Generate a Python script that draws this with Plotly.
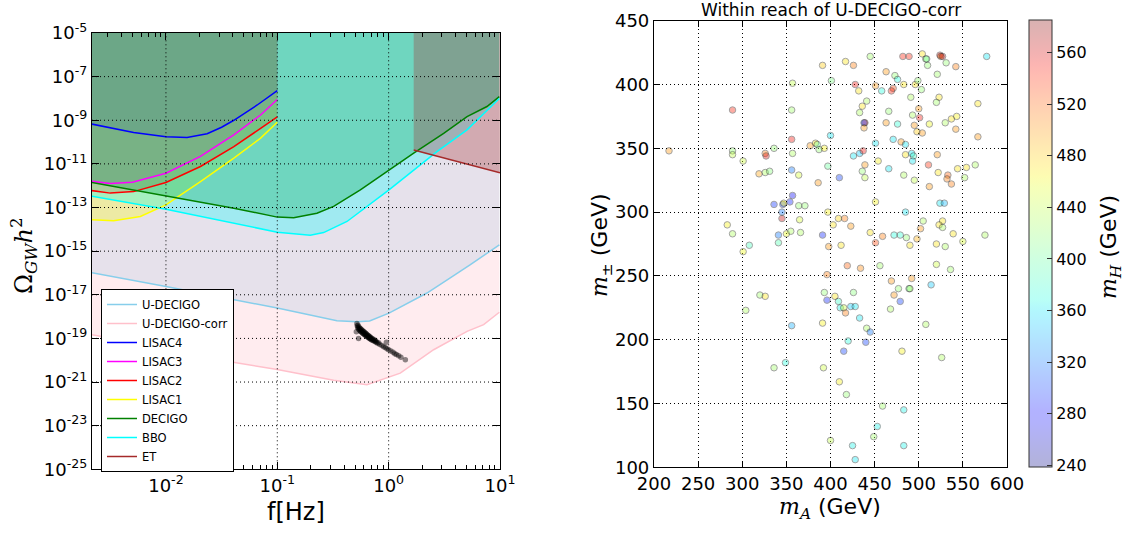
import numpy as np
import plotly.graph_objects as go

# ---------------- left panel: sensitivity curves (log10 f [Hz], log10 Omega h^2) -------------
udecigo_logf = [-2.70, -2.0, -1.0, -0.464, -0.284, -0.171, 0.003, 0.344, 0.584, 0.734, 0.994]
udecigo_logo = [-15.96, -16.62, -17.61, -18.19, -18.24, -18.20, -17.84, -16.92, -16.12, -15.62, -14.71]

corr_logf = [-2.70, -2.0, -1.452, -1.0, -0.494, -0.195, 0.104, 0.404, 0.704, 0.853, 0.994]
corr_logo = [-18.80, -19.44, -20.05, -20.43, -20.92, -21.12, -20.59, -19.52, -18.68, -18.37, -17.80]

lisac4_logf = [-2.70, -2.45, -2.29, -2.0, -1.81, -1.63, -1.50, -1.39, -1.18, -1.0]
lisac4_logo = [-9.14, -9.40, -9.56, -9.76, -9.79, -9.62, -9.32, -9.00, -8.30, -7.64]

lisac3_logf = [-2.70, -2.5, -2.3, -2.0, -1.69, -1.39, -1.15, -1.0]
lisac3_logo = [-11.78, -11.90, -11.84, -11.43, -10.66, -9.67, -8.76, -8.05]

lisac2_logf = [-2.70, -2.5, -2.29, -2.0, -1.69, -1.39, -1.15, -1.0]
lisac2_logo = [-12.20, -12.34, -12.27, -11.85, -11.12, -10.21, -9.37, -8.84]

lisac1_logf = [-2.70, -2.47, -2.23, -2.0, -1.69, -1.39, -1.15, -1.0]
lisac1_logo = [-13.55, -13.61, -13.41, -12.88, -11.81, -10.74, -9.82, -9.09]

decigo_logf = [-2.70, -2.0, -1.39, -1.0, -0.853, -0.644, -0.494, -0.254, 0.003, 0.225, 0.494, 0.704, 0.883, 0.994]
decigo_logo = [-11.82, -12.47, -13.03, -13.44, -13.47, -13.26, -12.95, -12.19, -11.27, -10.51, -9.60, -8.83, -8.37, -7.92]

bbo_logf = [-2.70, -2.0, -1.0, -0.793, -0.704, -0.584, -0.374, 0.003, 0.225, 0.434, 0.704, 0.883, 0.994]
bbo_logo = [-12.45, -13.08, -14.13, -14.25, -14.27, -14.15, -13.64, -12.19, -11.27, -10.44, -9.44, -8.53, -8.00]

et_logf = [0.225, 1.0]
et_logo = [-10.36, -11.41]

# benchmark points (black cloud)
blob_logf = [-0.285, -0.282, -0.278, -0.275, -0.272, -0.268, -0.265, -0.262, -0.258, -0.255, -0.252, -0.248,
             -0.245, -0.242, -0.238, -0.235, -0.232, -0.228, -0.225, -0.222, -0.218, -0.215, -0.212, -0.208,
             -0.205, -0.202, -0.198, -0.195, -0.192, -0.188, -0.185, -0.182, -0.178, -0.175, -0.172, -0.168,
             -0.165, -0.162, -0.158, -0.155, -0.150, -0.145, -0.140, -0.135, -0.130, -0.125, -0.120, -0.115,
             -0.110, -0.100, -0.090, -0.080, -0.060, -0.045, -0.030, -0.015, 0.000, 0.020, 0.040, 0.055,
             0.070, 0.090, 0.110, 0.150, -0.270, -0.020, -0.290]
blob_logo = [-18.32, -18.42, -18.50, -18.40, -18.56, -18.47, -18.60, -18.52, -18.64, -18.55, -18.68, -18.58,
             -18.70, -18.62, -18.74, -18.64, -18.76, -18.68, -18.79, -18.70, -18.82, -18.73, -18.84, -18.76,
             -18.87, -18.79, -18.90, -18.82, -18.92, -18.85, -18.95, -18.88, -18.97, -18.90, -19.00, -18.93,
             -19.02, -18.96, -19.05, -18.99, -19.07, -19.02, -19.10, -19.05, -19.12, -19.09, -19.15, -19.12,
             -19.18, -19.22, -19.20, -19.28, -19.32, -19.38, -19.42, -19.47, -19.52, -19.58, -19.64, -19.70,
             -19.74, -19.80, -19.86, -19.98, -19.00, -19.18, -18.70]

# ---------------- right panel: scatter (m_A, m_pm, m_H) in GeV ----------------
m_A = [217, 289, 289, 289, 301, 319, 326, 331, 326, 327, 336, 283, 289, 301, 308, 356, 357, 356, 357, 356,
       364, 377, 383, 385, 387, 393, 386, 391, 401, 400, 397, 410, 364, 346, 336, 347, 354, 357, 345, 345,
       350, 355, 341, 341, 365, 366, 371, 397, 391, 398, 403, 409, 416, 412, 423, 417, 426, 428, 432, 441,
       436, 433, 439, 438, 438, 445, 451, 458, 463, 471, 469, 473, 476, 466, 463, 476, 483, 480, 471, 451,
       454, 439, 426, 433, 437, 436, 439, 466, 451, 445, 459, 451, 472, 479, 486, 490, 483, 485, 495, 485,
       492, 494, 493, 485, 495, 493, 501, 500, 498, 504, 491, 503, 496, 499, 504, 482, 489, 508, 510, 509,
       524, 525, 527, 531, 542, 521, 523, 520, 512, 530, 537, 543, 542, 567, 577, 567, 521, 511, 522, 533,
       532, 537, 544, 552, 554, 564, 512, 524, 529, 527, 523, 527, 502, 505, 498, 539, 520, 530, 550, 575,
       396, 419, 434, 456, 520, 536, 320, 326, 304, 393, 396, 405, 409, 411, 415, 417, 423, 428, 426, 433,
       441, 445, 420, 415, 440, 391, 356, 336, 349, 392, 410, 418, 469, 472, 477, 479, 489, 490, 492, 514,
       468, 508, 481, 526, 459, 483, 453, 449, 400, 425, 483, 428]
m_pm = [348, 380, 348, 345, 340, 330, 331, 332, 346, 344, 350, 290, 283, 269, 274, 380, 401, 357, 346, 333,
        329, 352, 354, 353, 349, 350, 323, 415, 403, 360, 336, 327, 305, 306, 306, 307, 308, 313, 300, 295,
        283, 285, 282, 276, 294, 284, 305, 300, 282, 273, 290, 295, 295, 274, 289, 418, 415, 400, 395, 387,
        383, 378, 370, 370, 366, 422, 399, 395, 410, 397, 395, 407, 404, 379, 370, 369, 400, 355, 357, 354,
        340, 337, 344, 346, 348, 332, 327, 334, 308, 284, 281, 276, 282, 282, 280, 274, 329, 300, 325, 345,
        346, 344, 340, 353, 368, 376, 374, 381, 363, 362, 390, 396, 400, 403, 424, 422, 422, 420, 415, 420,
        423, 422, 422, 417, 414, 408, 390, 386, 369, 370, 373, 375, 365, 385, 422, 359, 345, 337, 331, 329,
        326, 322, 334, 327, 335, 337, 320, 307, 307, 293, 290, 288, 287, 293, 279, 283, 275, 273, 277, 282,
        251, 258, 256, 258, 259, 255, 235, 234, 223, 237, 231, 234, 230, 225, 225, 221, 226, 226, 237, 217,
        209, 206, 199, 191, 198, 213, 211, 178, 182, 178, 167, 157, 246, 235, 240, 230, 240, 240, 248, 243,
        224, 212, 191, 186, 148, 145, 132, 124, 121, 117, 117, 106]
m_H = [500, 545, 420, 440, 445, 495, 430, 415, 510, 555, 420, 465, 430, 460, 385, 425, 440, 550, 430, 320,
       450, 500, 470, 400, 420, 465, 500, 480, 410, 360, 400, 300, 420, 300, 295, 465, 290, 280, 320, 565,
       460, 430, 320, 390, 450, 430, 420, 465, 290, 500, 470, 475, 510, 470, 500, 470, 510, 550, 470, 430,
       470, 430, 560, 300, 500, 425, 500, 370, 500, 530, 545, 420, 370, 420, 500, 375, 470, 500, 360, 360,
       465, 500, 360, 350, 550, 420, 440, 360, 465, 470, 510, 530, 370, 375, 420, 470, 430, 360, 440, 470,
       360, 380, 360, 360, 500, 430, 550, 500, 480, 500, 430, 420, 470, 420, 470, 545, 545, 420, 420, 405,
       560, 510, 570, 420, 510, 425, 470, 425, 460, 430, 470, 465, 500, 470, 360, 500, 500, 540, 470, 520,
       510, 510, 470, 430, 470, 430, 500, 360, 345, 470, 470, 430, 500, 430, 490, 470, 470, 430, 450, 430,
       510, 520, 505, 425, 445, 425, 425, 470, 430, 420, 290, 470, 380, 365, 445, 510, 350, 360, 415, 360,
       430, 320, 370, 300, 300, 465, 340, 425, 370, 445, 465, 420, 500, 500, 420, 300, 400, 430, 500, 350,
       430, 430, 465, 430, 425, 365, 365, 425, 440, 365, 365, 360]

# axis tick labels
x1_ticks = [1e-2, 1e-1, 1e0, 1e1]
x1_ticktext = ["10<sup>-2</sup>", "10<sup>-1</sup>", "10<sup>0</sup>", "10<sup>1</sup>"]
y1_exps = [-5, -7, -9, -11, -13, -15, -17, -19, -21, -23, -25]
cbar_ticks = [240, 280, 320, 360, 400, 440, 480, 520, 560]

# ---------------- styling helpers ----------------
W, H = 1129, 534
TOP = 1e-5
FONT = "DejaVu Sans"
SERIF = "'DejaVu Serif'"
DOT = "1px,3px"


def jet(t):
    r = np.interp(t, [0, 0.35, 0.66, 0.89, 1], [0, 0, 1, 1, 0.5])
    g = np.interp(t, [0, 0.125, 0.375, 0.64, 0.91, 1], [0, 0, 1, 1, 0, 0])
    b = np.interp(t, [0, 0.11, 0.34, 0.65, 1], [0.5, 1, 1, 0, 0])
    return r * 255, g * 255, b * 255


stops = np.linspace(0, 1, 41)
jet_scale = []
pale_scale = []
for s in stops:
    r, g, b = jet(s)
    jet_scale.append([float(s), f"rgb({r:.0f},{g:.0f},{b:.0f})"])
    a = 0.3
    pale_scale.append([float(s), f"rgb({255*(1-a)+r*a:.0f},{255*(1-a)+g*a:.0f},{255*(1-a)+b*a:.0f})"])

CMIN, CMAX = 238.5, 585.0

fig = go.Figure()

series = [
    ("U-DECIGO", udecigo_logf, udecigo_logo, (135, 206, 235)),
    ("U-DECIGO-corr", corr_logf, corr_logo, (255, 192, 203)),
    ("LISAC4", lisac4_logf, lisac4_logo, (0, 0, 255)),
    ("LISAC3", lisac3_logf, lisac3_logo, (255, 0, 255)),
    ("LISAC2", lisac2_logf, lisac2_logo, (255, 0, 0)),
    ("LISAC1", lisac1_logf, lisac1_logo, (255, 255, 0)),
    ("DECIGO", decigo_logf, decigo_logo, (0, 128, 0)),
    ("BBO", bbo_logf, bbo_logo, (0, 255, 255)),
    ("ET", et_logf, et_logo, (165, 42, 42)),
]

# fills (region above each curve)
for name, lf, lo, c in series:
    f = [10 ** v for v in lf]
    o = [10 ** v for v in lo]
    fig.add_trace(go.Scatter(
        x=f + [f[-1], f[0]], y=o + [TOP, TOP], fill="toself",
        fillcolor=f"rgba({c[0]},{c[1]},{c[2]},0.3)", mode="lines", line=dict(width=0),
        showlegend=False, hoverinfo="skip", xaxis="x", yaxis="y"))

# curves
for name, lf, lo, c in series:
    fig.add_trace(go.Scatter(
        x=[10 ** v for v in lf], y=[10 ** v for v in lo], mode="lines", name=name,
        line=dict(color=f"rgb({c[0]},{c[1]},{c[2]})", width=1.5), xaxis="x", yaxis="y"))

# benchmark cloud
fig.add_trace(go.Scatter(
    x=[10 ** v for v in blob_logf], y=[10 ** v for v in blob_logo], mode="markers",
    marker=dict(size=5.5, color="rgba(0,0,0,0.45)", line=dict(width=0)),
    showlegend=False, xaxis="x", yaxis="y"))

# right scatter
fig.add_trace(go.Scatter(
    x=m_A, y=m_pm, mode="markers", showlegend=False, xaxis="x2", yaxis="y2",
    marker=dict(size=6.5, color=m_H, colorscale=jet_scale, cmin=CMIN, cmax=CMAX, opacity=0.36,
                line=dict(color="black", width=1), showscale=False)))

# colorbar carrier
fig.add_trace(go.Scatter(
    x=[None], y=[None], mode="markers", showlegend=False, xaxis="x2", yaxis="y2",
    marker=dict(color=[400], colorscale=pale_scale, cmin=CMIN, cmax=CMAX, showscale=True,
                colorbar=dict(x=1029 / W, xanchor="left", y=(H - 467.3) / H, yanchor="bottom",
                              len=(467.3 - 20.7) / H, lenmode="fraction", thickness=23,
                              thicknessmode="pixels", outlinecolor="#333", outlinewidth=1,
                              tickvals=cbar_ticks, ticks="inside", ticklen=5, tickcolor="#333",
                              tickfont=dict(family=FONT, size=16, color="black"), xpad=0, ypad=0))))

# ---------------- layout ----------------
minor_vals = [k * 10.0 ** e for e in (-3, -2, -1, 0) for k in range(2, 10)]
axis_common = dict(showline=True, linecolor="black", linewidth=1.2, mirror="allticks", ticks="inside",
                   tickcolor="black", tickfont=dict(family=FONT, size=18, color="black"), zeroline=False,
                   automargin=False)

fig.update_layout(
    template="none",
    width=W, height=H, margin=dict(l=0, r=0, t=0, b=0, autoexpand=False),
    paper_bgcolor="white", plot_bgcolor="white",
    font=dict(family=FONT, color="black"),
    xaxis=dict(domain=[92 / W, 500 / W], type="log", range=[-2.664, 1.0], anchor="y",
               tickmode="array", tickvals=x1_ticks, ticktext=x1_ticktext, ticklen=7, showgrid=False,
               minor=dict(ticks="inside", ticklen=4, tickcolor="black", tickvals=minor_vals, showgrid=False),
               **axis_common),
    yaxis=dict(domain=[(H - 469.3) / H, (H - 33) / H], type="log", range=[-25, -5], anchor="x",
               tickmode="array", tickvals=[10.0 ** e for e in y1_exps],
               ticktext=[f"10<sup>{e}</sup>" for e in y1_exps], ticklen=7, showgrid=False, **axis_common),
    xaxis2=dict(domain=[654 / W, 1007 / W], range=[200, 600], dtick=50, tick0=200, anchor="y2",
                showgrid=True, gridcolor="black", griddash=DOT, gridwidth=1, ticklen=6, **axis_common),
    yaxis2=dict(domain=[(H - 467.3) / H, (H - 20.7) / H], range=[100, 450], dtick=50, tick0=100, anchor="x2",
                showgrid=True, gridcolor="black", griddash=DOT, gridwidth=1, ticklen=6, **axis_common),
    legend=dict(x=101 / W, y=(H - 289) / H, xanchor="left", yanchor="top", bgcolor="white",
                bordercolor="black", borderwidth=1, font=dict(family=FONT, size=11.5, color="black"),
                tracegroupgap=0, itemwidth=30),
)

# dotted grid on top of the translucent fills (left panel)
shapes = []
for v in x1_ticks[:-1]:
    shapes.append(dict(type="line", xref="x", yref="y domain", x0=v, x1=v, y0=0, y1=1, layer="above",
                       line=dict(color="black", width=1, dash=DOT)))
for e in y1_exps[1:-1]:
    shapes.append(dict(type="line", xref="x domain", yref="y", x0=0, x1=1, y0=10.0 ** e, y1=10.0 ** e,
                       layer="above", line=dict(color="black", width=1, dash=DOT)))
fig.update_layout(shapes=shapes)

ann = [
    dict(text=f'<span style="font-family:{SERIF}">Ω<sub><i>GW</i></sub><i>h</i><sup>2</sup></span>',
         x=24 / W, y=(H - 256) / H, textangle=-90, font=dict(size=24)),
    dict(text="f[Hz]", x=296 / W, y=(H - 512) / H, font=dict(size=24, family=FONT)),
    dict(text="Within reach of U-DECIGO-corr", x=831 / W, y=(H - 10) / H, font=dict(size=17, family=FONT)),
    dict(text=f'<span style="font-family:{SERIF}"><i>m</i><sub><i>A</i></sub></span> (GeV)',
         x=830 / W, y=(H - 508) / H, font=dict(size=22, family=FONT)),
    dict(text=f'<span style="font-family:{SERIF}"><i>m</i><sub>±</sub></span> (GeV)',
         x=601 / W, y=(H - 245) / H, textangle=-90, font=dict(size=22, family=FONT)),
    dict(text=f'<span style="font-family:{SERIF}"><i>m</i><sub><i>H</i></sub></span> (GeV)',
         x=1110 / W, y=(H - 247) / H, textangle=-90, font=dict(size=22, family=FONT)),
]
for a in ann:
    a.update(xref="paper", yref="paper", showarrow=False, xanchor="center", yanchor="middle")
    a["font"].setdefault("color", "black")
fig.update_layout(annotations=ann)

fig.write_html("out.html")
